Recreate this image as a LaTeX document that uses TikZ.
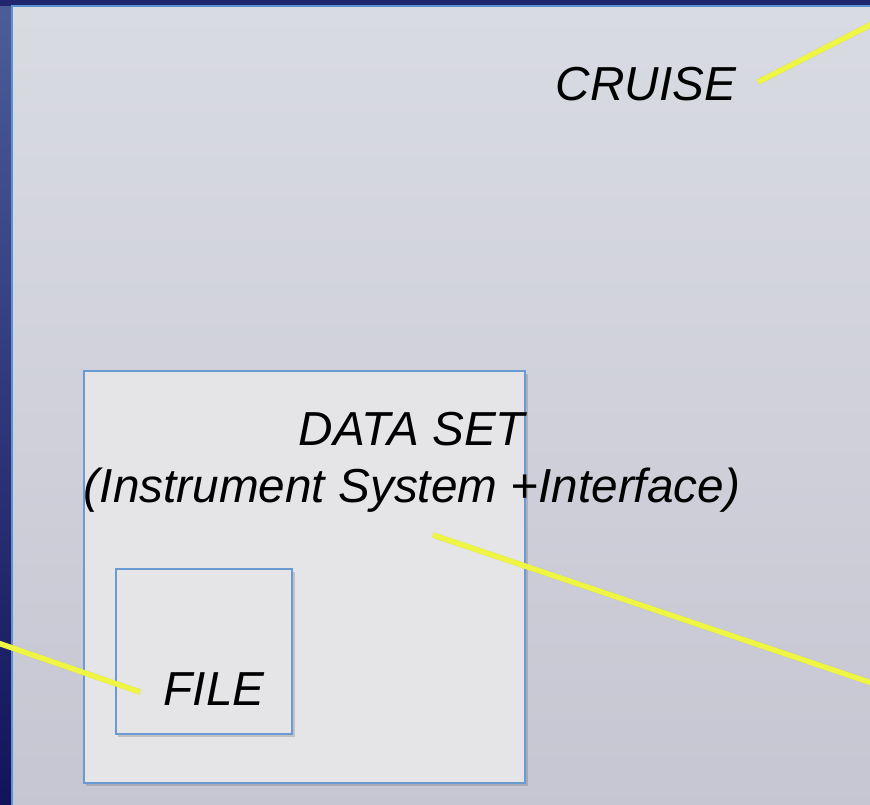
\documentclass[tikz,border=0pt]{standalone}
\usepackage{fontspec}
\setmainfont{Liberation Sans}
\begin{document}
\begin{tikzpicture}[x=1pt,y=-1pt,
  lbl/.style={font=\fontsize{47.7}{57}\selectfont\itshape, text=black, inner sep=0pt, align=center},
  boxstyle/.style={draw=boxblue, line width=2.2pt, fill=boxfill},
  shadowbox/.style={fill=black, opacity=0.15},
  pointer/.style={draw=ptryellow, line width=5.5pt},
  ptrshadow/.style={draw=black, opacity=0.15, line width=5.5pt}
]
\definecolor{boxblue}{HTML}{6A9AD2}
\definecolor{boxfill}{HTML}{E5E5E7}
\definecolor{ptryellow}{HTML}{EEF542}
\definecolor{bgtop}{HTML}{4C5E98}
\definecolor{bgbot}{HTML}{12135C}
\definecolor{paneltop}{HTML}{D9DBE3}
\definecolor{panelbot}{HTML}{C6C6D2}
\definecolor{panelblue}{HTML}{5C92D4}
\useasboundingbox (0,0) rectangle (870,804);
% background
\shade[top color=bgtop, bottom color=bgbot] (0,0) rectangle (870,804);
\fill[color=bgtop!70!blue!60!black] (0,0) rectangle (870,6);
% big panel
\shade[top color=paneltop, bottom color=panelbot] (12,6) rectangle (880,815);
\draw[panelblue, line width=2.2pt] (12,815) -- (12,6) -- (880,6);
% data set box
\fill[shadowbox] (86,374) rectangle (528,786);
\node[boxstyle, minimum width=441pt, minimum height=412pt, anchor=north west, inner sep=0pt] (dataset) at (83,370) {};
% file box
\fill[shadowbox] (118,572) rectangle (295,737);
\node[boxstyle, minimum width=176pt, minimum height=165pt, anchor=north west, inner sep=0pt] (file) at (115,568) {};
% labels
\node[lbl] (cruise) at (646,84) {CRUISE};
\node[lbl] (dstitle) at (412,462) {DATA SET\\(Instrument System +Interface)};
\node[lbl] (filelbl) at (214,689) {FILE};
% pointer ends
\coordinate (cruiseA) at (758,82);
\coordinate (cruiseB) at (872,24);
\coordinate (dsA) at (433,535);
\coordinate (dsB) at (872,683);
\coordinate (fileA) at (140,692);
\coordinate (fileB) at (-2,643);
% pointer shadows
\begin{scope}[shift={(2,3)}]
\draw[ptrshadow] (cruiseA) -- (cruiseB);
\draw[ptrshadow] (dsA) -- (dsB);
\draw[ptrshadow] (fileA) -- (fileB);
\end{scope}
\draw[pointer] (cruiseA) -- (cruiseB);
\draw[pointer] (dsA) -- (dsB);
\draw[pointer] (fileA) -- (fileB);
\end{tikzpicture}
\end{document}
